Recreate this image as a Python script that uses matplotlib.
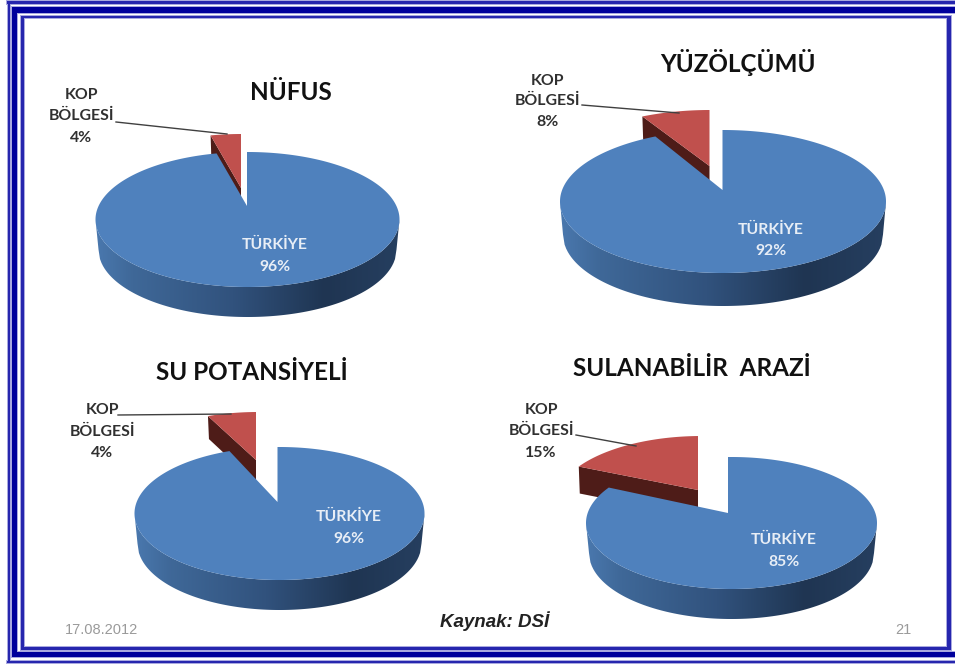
import numpy as np
import matplotlib
matplotlib.use("Agg")
import matplotlib.pyplot as plt
from matplotlib.colors import LinearSegmentedColormap
from matplotlib.patches import Polygon, Rectangle

# Printed labels
titles = ["NÜFUS", "YÜZÖLÇÜMÜ", "SU POTANSİYELİ", "SULANABİLİR  ARAZİ"]
turkiye_labels = [96, 92, 96, 85]
kop_labels = [4, 8, 4, 15]
# Size of the red slice as it is drawn in each pie (percent of the disc)
kop_drawn = [4, 8, 6.5, 18]

# Layout in picture pixels
W, H = 955, 664
pies = [
    dict(cx=247.5, cy=219.5, rx=152, ry=67.5, tipx=247, tip=206, depth=30, off=(-6, -18), rtip=188, kd=30),
    dict(cx=723, cy=201.5, rx=163, ry=71.5, tipx=722.5, tip=190, depth=33, off=(-13, -20), rtip=166, kd=30),
    dict(cx=279.5, cy=513.5, rx=145, ry=66.5, tipx=277.5, tip=502, depth=30, off=(-21.5, -35), rtip=460, kd=23),
    dict(cx=731.5, cy=523, rx=145.5, ry=66, tipx=728, tip=513, depth=30, off=(-30, -21), rtip=490, kd=27),
]
title_pos = [(291, 92), (738, 62), (252, 372), (692, 369)]
turk_pos = [(275, 245, 267), (771, 230, 251), (349, 517, 539), (784, 540, 562)]
kop_pos = [(81, 95, 116, 138), (547, 81, 101, 122), (102, 410, 432, 453), (541, 410, 431, 453)]
leader = [
    [(116, 122), (227, 134)],
    [(582, 105), (679, 113)],
    [(118, 415), (231, 414)],
    [(576, 435), (636, 446)],
]

TOP_BLUE = "#4F81BD"
TOP_RED = "#C0504D"
WALL_RED = "#4E1C18"
side_cmap = LinearSegmentedColormap.from_list(
    "side", [(0, "#4A78AE"), (0.12, "#3F6898"), (0.45, "#31527D"),
             (0.75, "#1F3552"), (1, "#263F60")])

plt.rcParams["font.family"] = ["Lato", "DejaVu Sans"]
fig = plt.figure(figsize=(W / 100, H / 100), dpi=100, facecolor="white")
ax = fig.add_axes([0, 0, 1, 1])
ax.set_xlim(0, W)
ax.set_ylim(H, 0)
ax.axis("off")


def band(x0, y0, x1, y1, color):
    ax.add_patch(Rectangle((x0, y0), x1 - x0, y1 - y0, fc=color, ec="none", zorder=50))


def rim(p, theta, shift=(0, 0)):
    """Point where the ray from the pie tip at clockwise angle theta meets the rim."""
    e = (p["tipx"] - p["cx"]) / p["rx"]
    d = (p["cy"] - p["tip"]) / p["ry"]
    s, c = np.sin(theta), np.cos(theta)
    b = e * s + d * c
    t = -b + np.sqrt(b * b + 1 - e * e - d * d)
    u, v = e + s * t, d + c * t
    return np.column_stack([p["cx"] + p["rx"] * u + shift[0],
                            p["cy"] - p["ry"] * v + shift[1]])


def draw_pie(p, kop):
    a0 = 2 * np.pi * (1 - kop / 100)
    off = p["off"]
    tip = np.array([[p["tipx"], p["tip"]]])
    # Red slice: cut wall, then top
    th = np.linspace(a0, 2 * np.pi, 60)
    arc = rim(p, th, off)
    t_red = np.array([[p["tipx"] + off[0], p["rtip"]]])
    wall = np.vstack([t_red, arc[:1], arc[:1] + [1, p["kd"]], t_red + [0, p["kd"]]])
    ax.add_patch(Polygon(wall, fc=WALL_RED, ec="none", zorder=2))
    ax.add_patch(Polygon(np.vstack([t_red, arc]), fc=TOP_RED, ec="none", zorder=3))
    # Blue side: horizontal shading clipped to the front half of the rim
    u = np.linspace(-1, 1, 200)
    top = p["cy"] + p["ry"] * np.sqrt(1 - u * u)
    scale = (p["rx"] - 3)
    side = np.vstack([
        np.column_stack([p["cx"] + p["rx"] * u, top]),
        np.column_stack([p["cx"] + scale * u[::-1], top[::-1] + p["depth"]]),
    ])
    outline = Polygon(side, fc="none", ec="none", transform=ax.transData)
    ax.add_patch(outline)
    grad = np.linspace(0, 1, 512)[None, :]
    y0, y1 = p["cy"] - 2, p["cy"] + p["ry"] + p["depth"] + 2
    im = ax.imshow(grad, cmap=side_cmap, aspect="auto", zorder=4, interpolation="bilinear",
                   extent=(p["cx"] - p["rx"], p["cx"] + p["rx"], y1, y0))
    im.set_clip_path(outline)
    # Blue top
    th = np.linspace(0, a0, 400)
    ax.add_patch(Polygon(np.vstack([tip, rim(p, th)]), fc=TOP_BLUE, ec="none", zorder=5))


for i, p in enumerate(pies):
    draw_pie(p, kop_drawn[i])
    ax.plot(*zip(*leader[i]), color="#404040", lw=1.0, zorder=6)
    ax.text(*title_pos[i], titles[i], fontsize=17.5, fontweight="bold", color="#111111",
            ha="center", va="center", zorder=10)
    x, y1, y2 = turk_pos[i]
    ax.text(x, y1, "TÜRKİYE", fontsize=11.3, fontweight="bold", color="#E8EEF6",
            ha="center", va="center", zorder=10)
    ax.text(x, y2, f"{turkiye_labels[i]}%", fontsize=11.3, fontweight="bold", color="#E8EEF6",
            ha="center", va="center", zorder=10)
    x, a, b, c = kop_pos[i]
    for yy, s in zip((a, b, c), ("KOP", "BÖLGESİ", f"{kop_labels[i]}%")):
        ax.text(x, yy, s, fontsize=11.4, fontweight="bold", color="#303030",
                ha="center", va="center", zorder=10)

ax.set_xlim(0, W)
ax.set_ylim(H, 0)

# Frame: soft flanks first, then the solid bands
DARK, LINE, SOFT = "#00009C", "#2626AE", "#A9A9E0"
for pad, c1, c2 in ((1, SOFT, SOFT), (0, DARK, LINE)):
    # outer line
    band(7 - pad, 1 - pad, W, 3.5 + pad, c2)
    band(7.5 - pad, 1 - pad, 10 + pad, 663, c2)
    band(7 - pad, 660.5 - pad, W, 663 + pad, c2)
    # thick band
    band(11.5 - pad, 7 - pad, W, 12.5 + pad, c1)
    band(11.5 - pad, 7 - pad, 17 + pad, 657, c1)
    band(11.5 - pad, 651.5 - pad, W, 657 + pad, c1)
    # inner line
    band(21 - pad, 15.5 - pad, 950.5 + pad, 18 + pad, c2)
    band(21 - pad, 15.5 - pad, 24 + pad, 650 + pad, c2)
    band(21 - pad, 647 - pad, 950.5 + pad, 650 + pad, c2)
    band(947 - pad, 15.5 - pad, 950.5 + pad, 650 + pad, c2)

ax.text(495, 621, "Kaynak: DSİ", fontsize=13.5, fontweight="bold", style="italic", color="#222222",
        family=["Liberation Sans", "DejaVu Sans"], ha="center", va="center", zorder=10)
ax.text(101, 630, "17.08.2012", fontsize=10.5, color="#9A9A9A",
        family=["Liberation Sans", "DejaVu Sans"], ha="center", va="center", zorder=10)
ax.text(903, 630, "21", fontsize=10.5, color="#9A9A9A",
        family=["Liberation Sans", "DejaVu Sans"], ha="center", va="center", zorder=10)

fig.savefig("out.png", dpi=100, facecolor="white")
